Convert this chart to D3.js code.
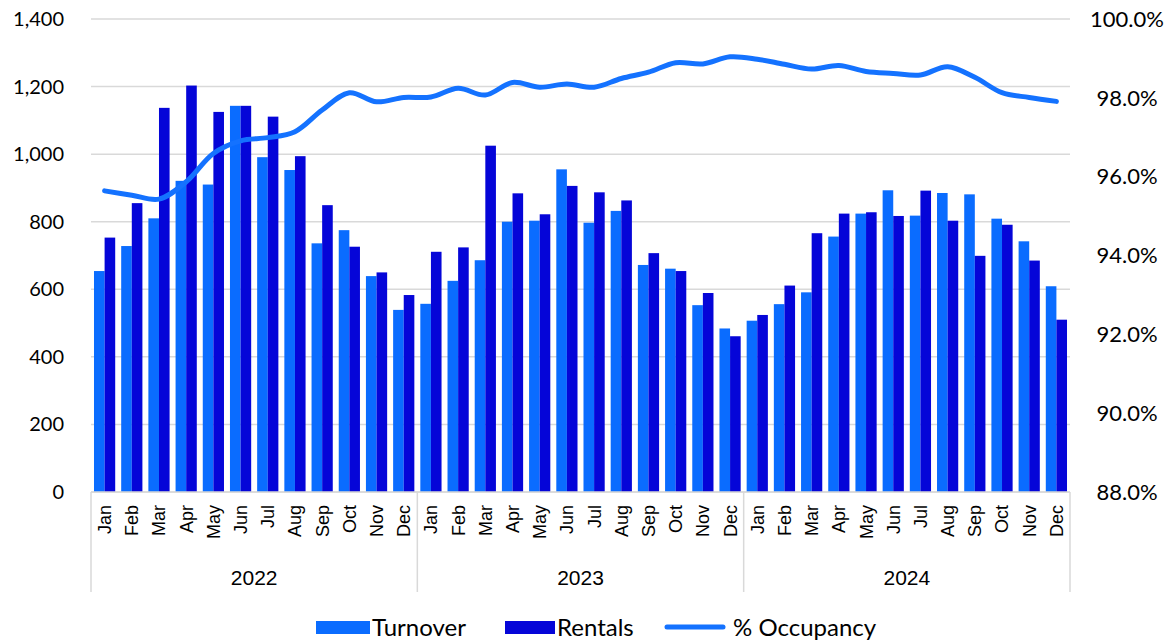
<!DOCTYPE html>
<html>
<head>
<meta charset="utf-8">
<script src="https://cdn.jsdelivr.net/npm/d3@7"></script>
<style>
  body { margin: 0; background: #fff; }
  svg text { fill: #000; }
</style>
</head>
<body>
<script>
var years = ["2022", "2023", "2024"];
var months = ["Jan", "Feb", "Mar", "Apr", "May", "Jun", "Jul", "Aug", "Sep", "Oct", "Nov", "Dec"];

var turnover = [
  654, 728, 810, 921, 910, 1143, 991, 953, 736, 775, 639, 539,
  557, 625, 686, 800, 803, 955, 797, 832, 672, 661, 553, 484,
  507, 556, 591, 756, 824, 893, 818, 885, 881, 809, 742, 609
];
var rentals = [
  753, 855, 1137, 1203, 1125, 1143, 1111, 994, 849, 726, 650, 583,
  711, 724, 1025, 884, 822, 906, 887, 863, 707, 654, 589, 461,
  524, 611, 766, 824, 828, 817, 892, 803, 699, 791, 685, 510
];
var occupancy = [
  95.64, 95.53, 95.43, 95.87, 96.59, 96.91, 96.99, 97.14, 97.69, 98.13, 97.90, 98.01,
  98.02, 98.24, 98.07, 98.39, 98.27, 98.35, 98.27, 98.49, 98.65, 98.89, 98.86, 99.04,
  98.98, 98.85, 98.73, 98.82, 98.67, 98.62, 98.58, 98.79, 98.52, 98.13, 98.01, 97.91
];
var leftTicks = [0, 200, 400, 600, 800, 1000, 1200, 1400];
var rightTicks = [88, 90, 92, 94, 96, 98, 100];

var width = 1176,
  height = 642,
  plotLeft = 91,
  plotRight = 1070,
  plotTop = 19,
  plotBottom = 492;

var colTurnover = "#0A6CFF",
  colRentals = "#0505D8",
  colLine = "#1472FF",
  gridColor = "#D9D9D9";

var svg = d3.select("body").append("svg")
  .attr("width", width)
  .attr("height", height);

// one row per month slot
var rows = [];
years.forEach(function (y, yi) {
  months.forEach(function (m, mi) {
    var i = yi * 12 + mi;
    rows.push({ key: y + "-" + m, year: y, month: m, t: turnover[i], r: rentals[i], o: occupancy[i] });
  });
});

var x = d3.scaleBand()
  .domain(rows.map(function (d) { return d.key; }))
  .range([plotLeft, plotRight])
  .paddingInner(0.22)
  .paddingOuter(0.11);

var xSub = d3.scaleBand()
  .domain(["t", "r"])
  .range([0, x.bandwidth()]);

var yLeft = d3.scaleLinear().domain([0, 1400]).range([plotBottom, plotTop]);
var yRight = d3.scaleLinear().domain([88, 100]).range([plotBottom, plotTop]);

// gridlines
svg.append("g")
  .selectAll("line")
  .data(leftTicks)
  .enter()
  .append("line")
  .attr("x1", plotLeft)
  .attr("x2", plotRight)
  .attr("y1", function (d) { return yLeft(d); })
  .attr("y2", function (d) { return yLeft(d); })
  .attr("stroke", gridColor)
  .attr("stroke-width", 1.5);

// left axis labels
svg.append("g")
  .selectAll("text")
  .data(leftTicks)
  .enter()
  .append("text")
  .attr("x", 64)
  .attr("y", function (d) { return yLeft(d); })
  .attr("dy", "0.35em")
  .attr("text-anchor", "end")
  .style("font-family", "Lato, sans-serif")
  .style("font-size", "20px")
  .text(function (d) { return d3.format(",")(d); });

// right axis labels
svg.append("g")
  .selectAll("text")
  .data(rightTicks)
  .enter()
  .append("text")
  .attr("x", 1127)
  .attr("y", function (d) { return yRight(d); })
  .attr("dy", "0.35em")
  .attr("text-anchor", "middle")
  .style("font-family", "Lato, sans-serif")
  .style("font-size", "22px")
  .text(function (d) { return d.toFixed(1) + "%"; });

// bars
var groups = svg.append("g")
  .selectAll("g")
  .data(rows)
  .enter()
  .append("g")
  .attr("transform", function (d) { return "translate(" + x(d.key) + ",0)"; });

groups.append("rect")
  .attr("x", xSub("t"))
  .attr("width", xSub.bandwidth())
  .attr("y", function (d) { return yLeft(d.t); })
  .attr("height", function (d) { return plotBottom - yLeft(d.t); })
  .attr("fill", colTurnover);

groups.append("rect")
  .attr("x", xSub("r"))
  .attr("width", xSub.bandwidth())
  .attr("y", function (d) { return yLeft(d.r); })
  .attr("height", function (d) { return plotBottom - yLeft(d.r); })
  .attr("fill", colRentals);

// occupancy line
var line = d3.line()
  .x(function (d) { return x(d.key) + x.bandwidth() / 2; })
  .y(function (d) { return yRight(d.o); })
  .curve(d3.curveCatmullRom.alpha(0.5));

svg.append("path")
  .datum(rows)
  .attr("d", line)
  .attr("fill", "none")
  .attr("stroke", colLine)
  .attr("stroke-width", 5)
  .attr("stroke-linecap", "round")
  .attr("stroke-linejoin", "round");

// category axis: baseline and year dividers
var step = (plotRight - plotLeft) / rows.length;
svg.append("line")
  .attr("x1", plotLeft).attr("x2", plotRight)
  .attr("y1", plotBottom).attr("y2", plotBottom)
  .attr("stroke", gridColor).attr("stroke-width", 1.5);

svg.append("g")
  .selectAll("line")
  .data(d3.range(years.length + 1))
  .enter()
  .append("line")
  .attr("x1", function (d) { return plotLeft + d * 12 * step; })
  .attr("x2", function (d) { return plotLeft + d * 12 * step; })
  .attr("y1", plotBottom)
  .attr("y2", 592)
  .attr("stroke", gridColor)
  .attr("stroke-width", 1.5);

// month labels
svg.append("g")
  .selectAll("text")
  .data(rows)
  .enter()
  .append("text")
  .attr("transform", function (d) {
    return "translate(" + (x(d.key) + x.bandwidth() / 2) + ",505) rotate(-90)";
  })
  .attr("dy", "0.36em")
  .attr("text-anchor", "end")
  .style("font-family", "'Liberation Sans', Arial, sans-serif")
  .style("font-size", "18px")
  .text(function (d) { return d.month; });

// year labels
svg.append("g")
  .selectAll("text")
  .data(years)
  .enter()
  .append("text")
  .attr("x", function (d, i) { return plotLeft + (i * 12 + 6) * step; })
  .attr("y", 578)
  .attr("dy", "0.35em")
  .attr("text-anchor", "middle")
  .style("font-family", "'Liberation Sans', Arial, sans-serif")
  .style("font-size", "21px")
  .text(function (d) { return d; });

// legend
var legend = svg.append("g").style("font-family", "Lato, sans-serif").style("font-size", "24px");

legend.append("rect").attr("x", 316).attr("y", 621).attr("width", 54).attr("height", 13).attr("fill", colTurnover);
legend.append("text").attr("x", 372).attr("y", 628).attr("dy", "0.35em").text("Turnover");

legend.append("rect").attr("x", 505).attr("y", 621).attr("width", 50).attr("height", 13).attr("fill", colRentals);
legend.append("text").attr("x", 557).attr("y", 628).attr("dy", "0.35em").text("Rentals");

legend.append("line").attr("x1", 667).attr("x2", 723).attr("y1", 627).attr("y2", 627)
  .attr("stroke", colLine).attr("stroke-width", 5).attr("stroke-linecap", "round");
legend.append("text").attr("x", 733).attr("y", 628).attr("dy", "0.35em").text("% Occupancy");
</script>
</body>
</html>
